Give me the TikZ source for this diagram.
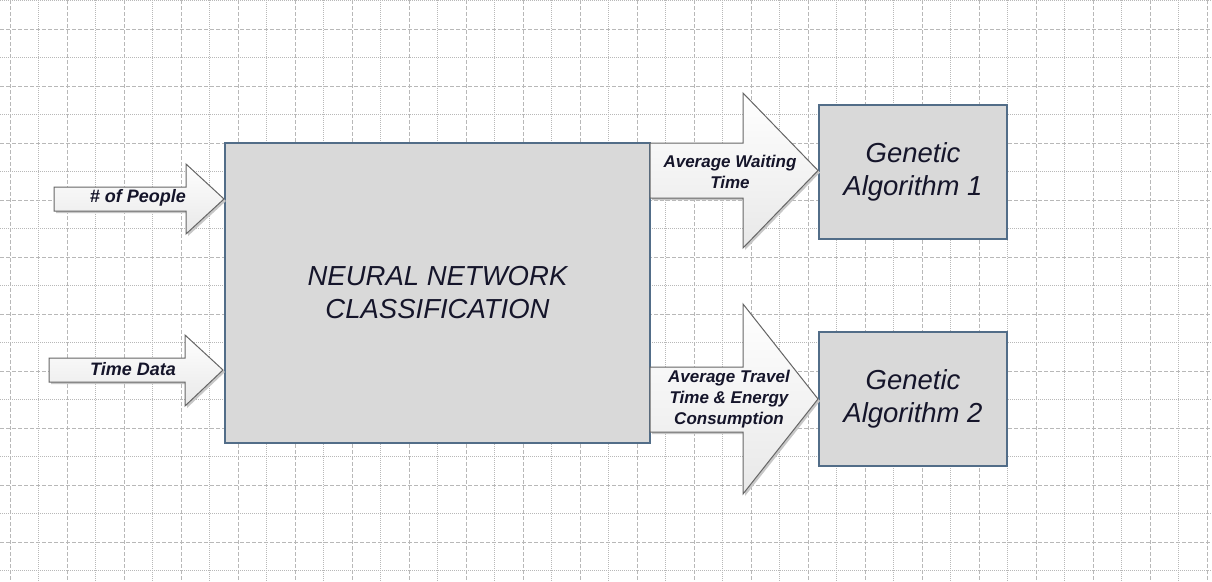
\documentclass[tikz,border=0pt]{standalone}
\usepackage{fontspec}
\setmainfont{Liberation Sans}

\definecolor{gridgray}{HTML}{B8B8B8}
\definecolor{boxfill}{HTML}{D9D9D9}
\definecolor{boxline}{HTML}{526D88}
\definecolor{arrowline}{HTML}{666666}
\definecolor{inktext}{HTML}{15152A}

\tikzset{
  majorgrid/.style={draw=gridgray, line width=0.9pt, dash pattern=on 4pt off 2pt},
  minorgrid/.style={draw=gridgray, line width=0.8pt, dash pattern=on 1pt off 1pt},
  block/.style={draw=boxline, line width=1.3pt, fill=boxfill, align=center,
    text=inktext, font=\fontsize{27.5}{33}\selectfont\itshape},
  fatarrow/.style={draw=arrowline, line width=1pt, top color=white,
    bottom color=black!9, line join=miter},
  arrowshadow/.style={fill=black!22},
  intext/.style={font=\fontsize{18}{21}\selectfont\bfseries\itshape,
    text=inktext, align=center},
  outtext/.style={font=\fontsize{17}{21}\selectfont\bfseries\itshape,
    text=inktext, align=center}
}

\begin{document}
\begin{tikzpicture}[x=1pt, y=-1pt]
  \useasboundingbox[fill=white] (0,0) rectangle (1212,581);

  % background grid
  \foreach \k in {0,...,42}{
    \ifodd\k \draw[minorgrid] (10+28.5*\k,0) -- (10+28.5*\k,581);
    \else    \draw[majorgrid] (10+28.5*\k,0) -- (10+28.5*\k,581); \fi
  }
  \foreach \k in {0,...,20}{
    \ifodd\k \draw[majorgrid] (0,0.5+28.5*\k) -- (1212,0.5+28.5*\k);
    \else    \draw[minorgrid] (0,0.5+28.5*\k) -- (1212,0.5+28.5*\k); \fi
  }

  % boxes
  \node[block, minimum width=425pt, minimum height=300pt] (nn) at (437.5,293)
    {NEURAL NETWORK\\CLASSIFICATION};
  \node[block, minimum width=188pt, minimum height=134pt] (ga1) at (913,172)
    {Genetic\\Algorithm 1};
  \node[block, minimum width=188pt, minimum height=134pt] (ga2) at (913,399)
    {Genetic\\Algorithm 2};

  % input arrows
  \fill[arrowshadow, shift={(2,2)}] (54,187) -- (186,187) -- (186,164) -- (224,199)
    -- (186,234) -- (186,211) -- (54,211) -- cycle;
  \draw[fatarrow] (54,187) -- (186,187) -- (186,164) -- (224,199)
    -- (186,234) -- (186,211) -- (54,211) -- cycle;
  \fill[arrowshadow, shift={(2,2)}] (49,358) -- (185,358) -- (185,335) -- (223,370)
    -- (185,406) -- (185,382) -- (49,382) -- cycle;
  \draw[fatarrow] (49,358) -- (185,358) -- (185,335) -- (223,370)
    -- (185,406) -- (185,382) -- (49,382) -- cycle;

  % output arrows
  \fill[arrowshadow, shift={(2,2)}] (650,143) -- (743,143) -- (743,93) -- (818,170.5)
    -- (743,248) -- (743,198) -- (650,198) -- cycle;
  \draw[fatarrow] (650,143) -- (743,143) -- (743,93) -- (818,170.5)
    -- (743,248) -- (743,198) -- (650,198) -- cycle;
  \fill[arrowshadow, shift={(2,2)}] (650,367) -- (743,367) -- (743,304) -- (818,399)
    -- (743,494) -- (743,432) -- (650,432) -- cycle;
  \draw[fatarrow] (650,367) -- (743,367) -- (743,304) -- (818,399)
    -- (743,494) -- (743,432) -- (650,432) -- cycle;

  % arrow labels
  \node[intext] (people) at (138,198) {\# of People};
  \node[intext] (timedata) at (133,369) {Time Data};
  \node[outtext] (waiting) at (730,171.5) {Average Waiting\\Time};
  \node[outtext] (travel) at (729,399.5) {Average Travel\\Time \& Energy\\Consumption};
\end{tikzpicture}
\end{document}
